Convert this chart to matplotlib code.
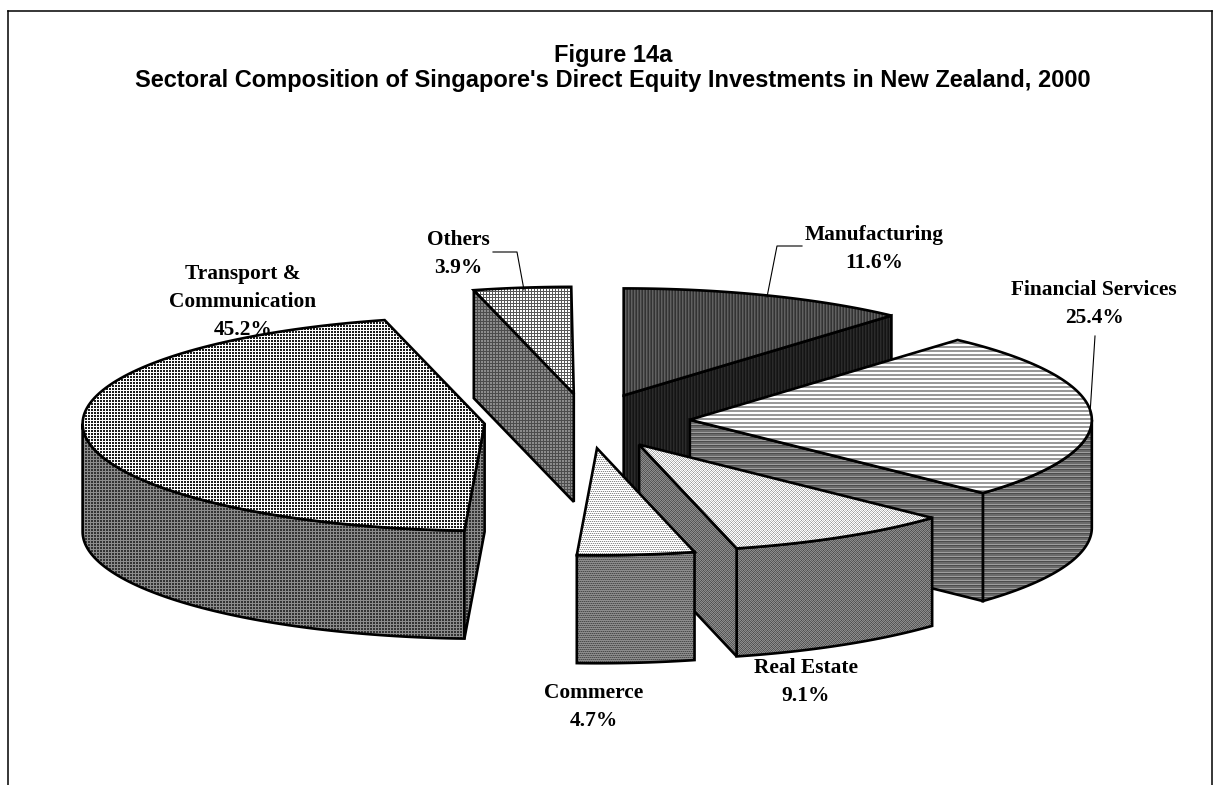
import numpy as np
import matplotlib
matplotlib.use("Agg")
import matplotlib.pyplot as plt
from matplotlib.patches import Polygon

title = "Figure 14a\nSectoral Composition of Singapore's Direct Equity Investments in New Zealand, 2000"
categories = ["Manufacturing", "Financial Services", "Real Estate", "Commerce",
              "Transport &\nCommunication", "Others"]
shares = [11.6, 25.4, 9.1, 4.7, 45.2, 3.9]

# layout, pixels
W, H = 1220, 785
cx, cy = 587, 421
rx, ry = 402, 107
depth = 108
explode = 0.256
label_pos = [(874, 249), (1094, 304), (806, 682), (594, 707), (243, 302), (458, 254)]
leaders = [[(802, 246), (777, 246), (767, 297)],
           [(1095, 336), (1090, 414)],
           [(493, 252), (517, 252), (524, 290)]]

# pixel tiles for the fills (top, side)
grid_top = [[.35, .35, .35], [.35, 1, 1], [.35, 1, 1]]
grid_side = [[.3, .3, .3], [.3, .55, .55], [.3, .55, .55]]
dot_top = [[1, 1, 1], [1, .12, .12], [1, .12, .12]]
dot_side = [[.55, .55, .55], [.55, .2, .2], [.55, .2, .2]]
vert_top = [[.2, .38, .28]]
vert_side = [[.08, .17, .12]]
horiz_top = [[1], [1], [.6], [.6]]
horiz_side = [[.62], [.3], [.42], [.42]]
speck_top = [[1, .6, 1, .8], [.7, 1, .7, 1], [1, .8, 1, .6], [.7, 1, .7, 1]]
speck_side = [[.55, .3, .55, .4], [.35, .55, .35, .55], [.55, .4, .55, .3], [.35, .55, .35, .55]]
band_top = [[1, 1, 1, 1], [.55, .9, .55, .9], [1, 1, 1, 1], [.9, .55, .9, .55]]
band_side = [[.55, .55, .55, .55], [.3, .45, .3, .45], [.55, .55, .55, .55], [.45, .3, .45, .3]]
fills = [(vert_top, vert_side), (horiz_top, horiz_side), (speck_top, speck_side),
         (band_top, band_side), (dot_top, dot_side), (grid_top, grid_side)]

# back to front
draw_order = [5, 0, 1, 4, 2, 3]

fig = plt.figure(figsize=(W / 100, H / 100), dpi=100)
ax = fig.add_axes([0, 0, 1, 1])
ax.axis("off")

face_z = [1]


def textured(points, tile):
    tile = np.array(tile)
    img = np.tile(tile, (H // tile.shape[0] + 1, W // tile.shape[1] + 1))[:H, :W]
    z = face_z[0]
    face_z[0] += 1
    im = ax.imshow(img, cmap="gray", vmin=0, vmax=1, extent=(0, W, H, 0),
                   interpolation="nearest", aspect="auto", zorder=z)
    edge = Polygon(points, closed=True, facecolor="none", edgecolor="black",
                   linewidth=1.9, joinstyle="miter", zorder=z + 0.5)
    ax.add_patch(edge)
    im.set_clip_path(edge)


def rim(apex, theta):
    t = np.radians(theta)
    return np.column_stack([apex[0] + rx * np.sin(t), apex[1] - ry * np.cos(t)])


down = np.array([0, depth])
ends = np.cumsum(shares) * 3.6
starts = ends - np.array(shares) * 3.6

for i in draw_order:
    t1, t2 = starts[i], ends[i]
    mid = np.radians((t1 + t2) / 2)
    apex = np.array([cx + explode * rx * np.sin(mid), cy - explode * ry * np.cos(mid)])
    top_tile, side_tile = fills[i]

    # outer wall, only the part facing us
    a, b = max(t1, 90), min(t2, 270)
    if a < b:
        arc = rim(apex, np.linspace(a, b, 80))
        textured(np.vstack([arc, arc[::-1] + down]), side_tile)

    # cut faces
    if np.sin(np.radians(t2)) > 0.001:
        p = rim(apex, np.array([t2]))[0]
        textured([apex, p, p + down, apex + down], side_tile)
    if np.sin(np.radians(t1)) < -0.001:
        p = rim(apex, np.array([t1]))[0]
        textured([apex, p, p + down, apex + down], side_tile)

    arc = rim(apex, np.linspace(t1, t2, 120))
    textured(np.vstack([[apex], arc]), top_tile)

for pts in leaders:
    xs, ys = zip(*pts)
    ax.plot(xs, ys, color="black", lw=0.8, zorder=100)

for name, v, (x, y) in zip(categories, shares, label_pos):
    ax.text(x, y, f"{name}\n{v:.1f}%", ha="center", va="center", family="Liberation Serif",
            weight="bold", fontsize=15.4, color="black", linespacing=1.53, zorder=101)

ax.text(613, 68, title, ha="center", va="center", family="Liberation Sans", weight="bold",
        fontsize=17, color="black", linespacing=1.08, zorder=101)

# chart frame, cut off at the bottom
ax.plot([8, 8], [H, 10.5], color="black", lw=1.1, zorder=102)
ax.plot([8, 1212], [10.5, 10.5], color="black", lw=1.1, zorder=102)
ax.plot([1212, 1212], [10.5, H], color="black", lw=1.1, zorder=102)

ax.set_xlim(0, W)
ax.set_ylim(H, 0)
fig.savefig("out.png", dpi=100, facecolor="white")
